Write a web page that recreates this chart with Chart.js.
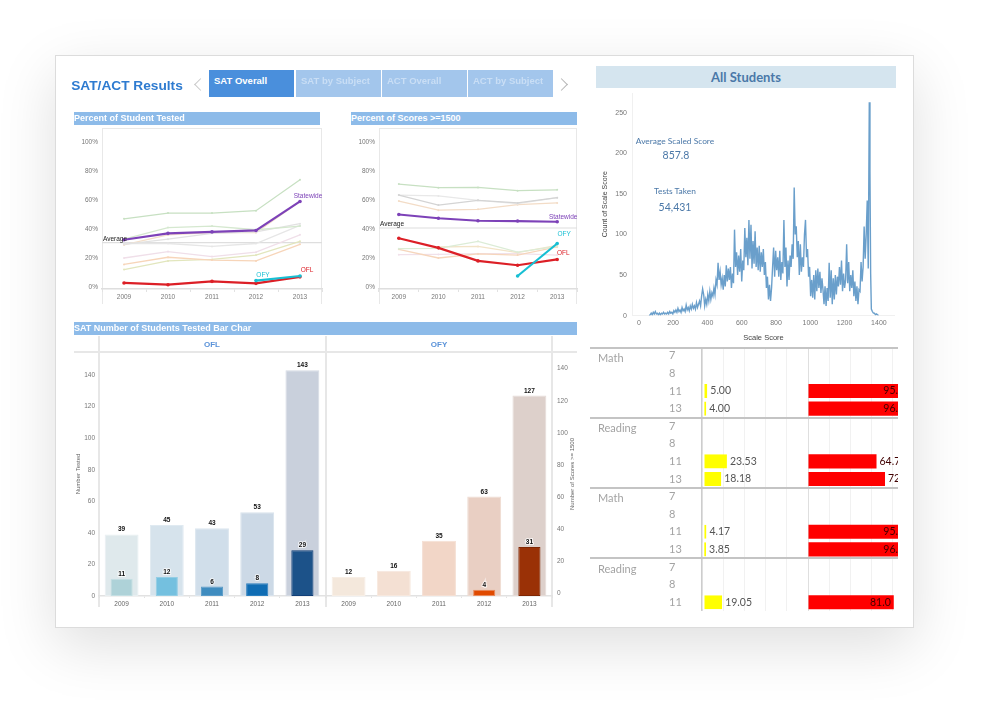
<!DOCTYPE html>
<html>
<head>
<meta charset="utf-8">
<title>SAT/ACT Results</title>
<script src="https://cdn.jsdelivr.net/npm/chart.js@4"></script>
<style>
    html, body { margin: 0; padding: 0; background: #fff; }
    body { width: 1000px; height: 714px; position: relative; overflow: hidden; font-family: "Liberation Sans", sans-serif; }
    #card { position: absolute; left: 55px; top: 55px; width: 857px; height: 571px; background: #fff; border: 1px solid #dcdcdc; box-shadow: 0 18px 55px rgba(0, 0, 0, .13); }
    #page { position: absolute; left: 0; top: 0; width: 1000px; height: 714px; filter: blur(.3px); }
    canvas, .abs { position: absolute; }
    .tab { position: absolute; top: 70px; height: 27px; width: 85px; background: #a3c6ec; color: #c9def5; font: bold 9.5px "Liberation Sans"; box-sizing: border-box; padding: 5px 0 0 5px; }
    .section { position: absolute; height: 13px; background: #8dbbe9; color: #fff; font: bold 9px "Liberation Sans"; line-height: 13px; white-space: nowrap; overflow: hidden; }
    .chev { position: absolute; top: 80px; width: 8px; height: 8px; border-top: 1.5px solid #c9c9c9; border-left: 1.5px solid #c9c9c9; }
    .center { transform: translate(-50%, -50%); white-space: nowrap; }
    .kpi { color: #4b78a8; font-family: Lato; }
    .panel { color: #5b93d9; font: bold 8px "Liberation Sans"; }
    .line { position: absolute; background: #e7e7e7; }
    .sep { position: absolute; left: 590px; width: 308px; height: 1.5px; background: #c4c4c4; }
    .group { position: absolute; left: 598px; color: #a3a3a3; font: 11px Lato; transform: translateY(-50%); }
    .box { position: absolute; border: 1px solid #e8e8e8; border-bottom: none; box-sizing: border-box; }
</style>
</head>
<body>
<div id="page">
    <div id="card"></div>

    <div class="abs center" style="left:127px;top:85px;color:#2e7bd0;font:bold 13.7px 'Liberation Sans'">SAT/ACT Results</div>
    <div class="chev" style="left:196px;transform:rotate(-45deg)"></div>
    <div class="tab" style="left:209px;background:#4a8fdc;color:#fff">SAT Overall</div>
    <div class="tab" style="left:296px">SAT by Subject</div>
    <div class="tab" style="left:382px">ACT Overall</div>
    <div class="tab" style="left:468px">ACT by Subject</div>
    <div class="chev" style="left:557px;transform:rotate(135deg);border-color:#b5b5b5"></div>

    <div class="section" style="left:74px;top:112px;width:246px">Percent of Student Tested</div>
    <div class="section" style="left:351px;top:112px;width:226px">Percent of Scores &gt;=1500</div>
    <div class="section" style="left:74px;top:322px;width:503px">SAT Number of Students Tested Bar Char</div>

    <div class="box" style="left:102px;top:128px;width:220px;height:176px"></div>
    <div class="box" style="left:379px;top:128px;width:198px;height:176px"></div>
    <canvas id="testedChart" width="265" height="176" style="left:60px;top:128px"></canvas>
    <canvas id="scoresChart" width="240" height="176" style="left:340px;top:128px"></canvas>

    <div class="line" style="left:74px;top:351px;width:503px;height:2px"></div>
    <div class="line" style="left:98px;top:336px;width:2px;height:271px"></div>
    <div class="line" style="left:325px;top:336px;width:2px;height:271px"></div>
    <div class="line" style="left:551px;top:336px;width:2px;height:271px"></div>
    <div class="abs center panel" style="left:212px;top:344px">OFL</div>
    <div class="abs center panel" style="left:439px;top:344px">OFY</div>
    <canvas id="oflChart" width="252" height="258" style="left:74px;top:352px"></canvas>
    <canvas id="ofyChart" width="252" height="258" style="left:326px;top:352px"></canvas>
    <div class="abs center" style="left:572px;top:474px;color:#666;font:6px 'Liberation Sans';transform:translate(-50%,-50%) rotate(-90deg)">Number of Scores &gt;= 1500</div>

    <div class="abs center" style="left:746px;top:77px;width:300px;height:22px;background:#d5e5ef;color:#4a78a8;font:bold 13px/22px Lato;text-align:center">All Students</div>
    <canvas id="histChart" width="295" height="250" style="left:600px;top:93px"></canvas>
    <div class="abs center kpi" style="left:675px;top:141px;font-size:8.4px">Average Scaled Score</div>
    <div class="abs center kpi" style="left:676px;top:155px;font-size:10.5px">857.8</div>
    <div class="abs center kpi" style="left:675px;top:191px;font-size:8.4px">Tests Taken</div>
    <div class="abs center kpi" style="left:675px;top:207px;font-size:10.5px">54,431</div>

    <canvas id="yellowChart" width="139" height="264" style="left:669px;top:347px"></canvas>
    <canvas id="redChart" width="90" height="264" style="left:808px;top:347px"></canvas>
    <div class="sep" style="top:347px"></div>
    <div class="sep" style="top:417px"></div>
    <div class="sep" style="top:487px"></div>
    <div class="sep" style="top:557px"></div>
    <div class="group" style="top:357px">Math</div>
    <div class="group" style="top:427px">Reading</div>
    <div class="group" style="top:497px">Math</div>
    <div class="group" style="top:568px">Reading</div>
</div>

<script>
const years = ['2009', '2010', '2011', '2012', '2013'];

// Percent of Student Tested
const testedGreenA = [47, 51, 51, 52.6, 74];
const testedGreenB = [33, 41, 42, 39.5, 42];
const testedGrayA = [29.4, 33, 37, 38, 43.7];
const testedGrayB = [30, 30, 28, 30, 42.5];
const testedTan = [29, 36, 37.5, 37.5, 59];
const testedPink = [20, 24.4, 21, 24, 36];
const testedOrange = [15.6, 20.5, 18.6, 18, 29.4];
const testedOlive = [12, 18, 19, 22, 31.5];
const testedStatewide = [32.6, 37, 38, 39, 59];
const testedOfl = [2.8, 1.6, 3.9, 2.5, 7];
const testedOfy = [null, null, null, 4.4, 7.6];
const testedAverage = 30.6;

// Percent of Scores >=1500
const scoresGreenA = [71, 68.5, 68.7, 66.4, 67];
const scoresGrayA = [63.4, 56.5, 59.8, 58, 61.6];
const scoresGrayB = [63.4, 62.8, 59.8, 57.5, 61.6];
const scoresTanA = [59.3, 53, 53.6, 56.8, 58];
const scoresGreenB = [26.4, 26.7, 31.5, 24, 28];
const scoresOrange = [26, 20, 22.8, 22, 27.6];
const scoresTanB = [null, 27.6, 28, 23.7, 28.7];
const scoresPink = [22.3, 22.5, 23, 23, 22];
const scoresStatewide = [50, 47.4, 45.7, 45.5, 45];
const scoresOfl = [33.6, 27, 18, 15, 19];
const scoresOfy = [null, null, null, 7.6, 30];
const scoresAverage = 40.7;

// Number tested bars
const oflTested = [39, 45, 43, 53, 143];
const oflScores = [11, 12, 6, 8, 29];
const ofyTested = [12, 16, 35, 63, 127];
const ofyScores = [null, null, null, 4, 31];
const axisTicks = [0, 20, 40, 60, 80, 100, 120, 140];

// Count of Scale Score
const scaleScores = [
    60, 66, 72, 78, 84, 90, 96, 102, 108, 114, 120, 126, 132, 138, 144, 150, 156, 162, 168, 174,
    180, 186, 192, 198, 204, 210, 216, 222, 228, 234, 240, 246, 252, 258, 264, 270, 276, 282, 288, 294,
    300, 306, 312, 318, 324, 330, 336, 342, 348, 354, 360, 366, 372, 378, 384, 390, 396, 402, 408, 414,
    420, 426, 432, 438, 444, 450, 456, 462, 468, 474, 480, 486, 492, 498, 504, 510, 516, 522, 528, 534,
    540, 546, 552, 558, 564, 570, 576, 582, 588, 594, 600, 606, 612, 618, 624, 630, 636, 642, 648, 654,
    660, 666, 672, 678, 684, 690, 696, 702, 708, 714, 720, 726, 732, 738, 744, 750, 756, 762, 768, 774,
    780, 786, 792, 798, 804, 810, 816, 822, 828, 834, 840, 846, 852, 858, 864, 870, 876, 882, 888, 894,
    900, 906, 912, 918, 924, 930, 936, 942, 948, 954, 960, 966, 972, 978, 984, 990, 996, 1002, 1008, 1014,
    1020, 1026, 1032, 1038, 1044, 1050, 1056, 1062, 1068, 1074, 1080, 1086, 1092, 1098, 1104, 1110, 1116, 1122, 1128, 1134,
    1140, 1146, 1152, 1158, 1164, 1170, 1176, 1182, 1188, 1194, 1200, 1206, 1212, 1218, 1224, 1230, 1236, 1242, 1248, 1254,
    1260, 1266, 1272, 1278, 1284, 1290, 1296, 1302, 1308, 1314, 1320, 1326, 1332, 1338, 1344, 1348, 1352, 1356, 1362, 1368,
    1374, 1380, 1386, 1392, 1398
];
const scaleCounts = [
    0, 1, 3, 1, 4, 2, 5, 2, 3, 1, 3, 1, 3, 2, 4, 2, 3, 2, 4, 2,
    5, 3, 4, 2, 6, 4, 7, 4, 9, 5, 7, 4, 10, 6, 8, 5, 13, 7, 10, 6,
    12, 8, 14, 9, 12, 8, 16, 10, 14, 18, 12, 24, 33, 26, 12, 20, 14, 26, 18, 30,
    20, 28, 24, 34, 26, 44, 38, 65, 44, 54, 38, 46, 32, 50, 36, 62, 42, 58, 44, 60,
    34, 52, 40, 106, 60, 78, 50, 74, 54, 82, 42, 68, 56, 108, 72, 96, 62, 118, 70, 112,
    58, 92, 64, 104, 60, 84, 56, 86, 54, 78, 60, 82, 50, 66, 34, 48, 20, 38, 18, 34,
    60, 84, 48, 80, 56, 72, 48, 80, 44, 66, 52, 118, 60, 84, 36, 68, 44, 74, 60, 88,
    70, 158, 100, 110, 72, 92, 50, 88, 54, 72, 60, 100, 118, 72, 82, 48, 60, 24, 44, 22,
    50, 20, 56, 30, 58, 34, 54, 28, 46, 32, 14, 36, 12, 34, 18, 65, 22, 56, 14, 46,
    20, 50, 26, 48, 36, 60, 38, 68, 30, 52, 34, 44, 88, 40, 66, 30, 50, 34, 56, 24,
    42, 18, 36, 14, 32, 30, 66, 42, 60, 110, 70, 100, 142, 58, 263, 178, 52, 8, 5, 3,
    3, 1, 2, 1, 0
];
const histXTicks = [0, 200, 400, 600, 800, 1000, 1200, 1400];
const histYTicks = [0, 50, 100, 150, 200, 250];

// Subject table
const tableGrades = ['7', '8', '11', '13', '7', '8', '11', '13', '7', '8', '11', '13', '7', '8', '11'];
const yellowValues = [null, null, 5.00, 4.00, null, null, 23.53, 18.18, null, null, 4.17, 3.85, null, null, 19.05];
const yellowLabels = ['', '', '5.00', '4.00', '', '', '23.53', '18.18', '', '', '4.17', '3.85', '', '', '19.05'];
const redValues = [null, null, 95, 96, null, null, 64.71, 72.73, null, null, 95.83, 96.15, null, null, 81.0];
const redLabels = ['', '', '95.', '96.', '', '', '64.7', '72', '', '', '95.', '96.', '', '', '81.0'];

const tickFont = { family: 'Liberation Sans', size: 6.5 };
const tickColor = '#777';

// pin an axis to a fixed size so the plot area lands where it should
function fixedAxis(size, key) {
    return scale => {
        scale[key] = size;
        scale.paddingTop = 0;
        scale.paddingBottom = 0;
        scale.paddingLeft = 0;
        scale.paddingRight = 0;
    };
}

// text next to a chosen point of a dataset, plus the reference line
const lineNotes = {
    id: 'lineNotes',
    afterDatasetsDraw(chart, args, opts) {
        const { ctx, chartArea, scales } = chart;
        const y = scales.y.getPixelForValue(opts.value);
        ctx.save();
        ctx.fillStyle = '#222';
        ctx.font = '6.5px "Liberation Sans"';
        ctx.textAlign = 'left';
        ctx.fillText('Average', chartArea.left + 1, y - 2);
        chart.data.datasets.forEach((ds, i) => {
            if (!ds.note) return;
            const point = chart.getDatasetMeta(i).data[ds.noteIndex];
            ctx.fillStyle = ds.borderColor;
            ctx.textAlign = 'center';
            ctx.fillText(ds.note, point.x + ds.noteDx, point.y + ds.noteDy);
        });
        ctx.restore();
    },
    beforeDatasetsDraw(chart, args, opts) {
        const { ctx, chartArea, scales } = chart;
        const y = scales.y.getPixelForValue(opts.value);
        ctx.save();
        ctx.strokeStyle = '#dedede';
        ctx.lineWidth = 1.2;
        ctx.beginPath();
        ctx.moveTo(chartArea.left, y);
        ctx.lineTo(chartArea.right, y);
        ctx.stroke();
        ctx.restore();
    }
};

function lineSet(data, color, width, extra) {
    return Object.assign({
        data,
        borderColor: color,
        backgroundColor: color,
        borderWidth: width,
        pointRadius: width > 1.5 ? 1.8 : 1,
        pointBorderWidth: 0,
        spanGaps: false,
        tension: 0
    }, extra);
}

function drawLines(id, datasets, average, yWidth) {
    new Chart(document.getElementById(id), {
        type: 'line',
        data: { labels: years, datasets },
        plugins: [lineNotes],
        options: {
            responsive: false,
            animation: false,
            layout: { autoPadding: false, padding: { right: 3 } },
            plugins: {
                legend: { display: false },
                tooltip: { enabled: false },
                lineNotes: { value: average }
            },
            scales: {
                x: {
                    offset: true,
                    afterFit: fixedAxis(15, 'height'),
                    border: { color: '#dedede', width: 1.5 },
                    grid: { offset: true, drawOnChartArea: false, tickLength: 3, color: '#e2e2e2' },
                    ticks: { font: tickFont, color: tickColor, padding: 1, maxRotation: 0 }
                },
                y: {
                    min: -1.38,
                    max: 109.66,
                    afterFit: fixedAxis(yWidth, 'width'),
                    border: { display: false },
                    grid: { display: false, drawTicks: false },
                    ticks: {
                        stepSize: 20,
                        includeBounds: false,
                        font: tickFont,
                        color: tickColor,
                        padding: 4,
                        callback: v => v + '%'
                    }
                }
            }
        }
    });
}

drawLines('testedChart', [
    lineSet(testedOfy, '#17bfd3', 2.2, { note: 'OFY', noteIndex: 3, noteDx: 7, noteDy: -4 }),
    lineSet(testedOfl, '#dc1f26', 2.2, { note: 'OFL', noteIndex: 4, noteDx: 7, noteDy: -5 }),
    lineSet(testedStatewide, '#7d42b8', 2.2, { note: 'Statewide', noteIndex: 4, noteDx: 8, noteDy: -3 }),
    lineSet(testedGreenA, '#c7e0c2', 1.3),
    lineSet(testedGreenB, '#d5e8cf', 1.3),
    lineSet(testedGrayA, '#e2e2e2', 1.3),
    lineSet(testedGrayB, '#e6e6e6', 1.3),
    lineSet(testedTan, '#f3dfca', 1.3),
    lineSet(testedPink, '#f0dfe9', 1.3),
    lineSet(testedOrange, '#f7d5b9', 1.3),
    lineSet(testedOlive, '#e2e6bd', 1.3)
], testedAverage, 42);

drawLines('scoresChart', [
    lineSet(scoresOfy, '#17bfd3', 2.2, { note: 'OFY', noteIndex: 4, noteDx: 7, noteDy: -8 }),
    lineSet(scoresOfl, '#dc1f26', 2.2, { note: 'OFL', noteIndex: 4, noteDx: 6, noteDy: -4 }),
    lineSet(scoresStatewide, '#7d42b8', 2.2, { note: 'Statewide', noteIndex: 4, noteDx: 6, noteDy: -3 }),
    lineSet(scoresGreenA, '#c7e0c2', 1.3),
    lineSet(scoresGrayA, '#d4d4d4', 1.3),
    lineSet(scoresGrayB, '#e8e8e8', 1.3),
    lineSet(scoresTanA, '#f3dcc6', 1.3),
    lineSet(scoresGreenB, '#dcecd6', 1.3),
    lineSet(scoresOrange, '#f6d6bc', 1.3),
    lineSet(scoresTanB, '#f2e4c8', 1.3),
    lineSet(scoresPink, '#f1e1ea', 1.3)
], scoresAverage, 39);

// bold count over every bar
const barCounts = {
    id: 'barCounts',
    afterDatasetsDraw(chart) {
        const { ctx } = chart;
        ctx.save();
        ctx.font = 'bold 6.5px "Liberation Sans"';
        ctx.textAlign = 'center';
        ctx.lineWidth = 2;
        ctx.strokeStyle = 'rgba(255,255,255,.7)';
        ctx.fillStyle = '#111';
        chart.data.datasets.forEach((ds, i) => {
            chart.getDatasetMeta(i).data.forEach((bar, j) => {
                if (ds.data[j] === null) return;
                ctx.strokeText(ds.data[j], bar.x, bar.y - 3);
                ctx.fillText(ds.data[j], bar.x, bar.y - 3);
            });
        });
        ctx.restore();
    }
};

function barSet(data, colors, edges, percent) {
    return {
        data,
        grouped: false,
        backgroundColor: colors,
        borderColor: edges,
        borderWidth: 1,
        borderSkipped: false,
        categoryPercentage: 1,
        barPercentage: percent
    };
}

const xBarAxis = {
    afterFit: fixedAxis(14, 'height'),
    border: { color: '#e2e2e2', width: 1.5 },
    grid: { drawOnChartArea: false, tickLength: 2, color: '#e2e2e2' },
    ticks: { font: tickFont, color: '#666', padding: 2, maxRotation: 0 }
};

new Chart(document.getElementById('oflChart'), {
    type: 'bar',
    data: {
        labels: years,
        datasets: [
            barSet(oflScores, ['#aed2d8', '#74c0df', '#3f8cbf', '#0f6cb3', '#1c5289'], ['#c4dfe3', '#93cde4', '#5c9cc8', '#2c7fbe', '#123f78'], 0.49),
            barSet(oflTested, ['#dfe9ec', '#d6e3ec', '#d0deea', '#ccd9e6', '#c9d0dc'], ['#e8eff1', '#e0eaf1', '#dbe6ef', '#d8e2ec', '#d4dae3'], 0.75)
        ]
    },
    plugins: [barCounts],
    options: {
        responsive: false,
        animation: false,
        layout: { autoPadding: false, padding: { right: 1 } },
        plugins: { legend: { display: false }, tooltip: { enabled: false } },
        scales: {
            x: xBarAxis,
            y: {
                min: 0,
                max: 154.6,
                afterFit: fixedAxis(25, 'width'),
                afterBuildTicks: scale => { scale.ticks = axisTicks.map(value => ({ value })); },
                border: { display: false },
                grid: { display: false, drawTicks: false },
                title: { display: true, text: 'Number Tested', font: { family: 'Liberation Sans', size: 6 }, color: '#666', padding: 1 },
                ticks: { font: tickFont, color: tickColor, padding: 4 }
            }
        }
    }
});

new Chart(document.getElementById('ofyChart'), {
    type: 'bar',
    data: {
        labels: years,
        datasets: [
            barSet(ofyScores, ['#fff', '#fff', '#fff', '#e04a00', '#9a3106'], ['#fff', '#fff', '#fff', '#e88a5c', '#7f2603'], 0.49),
            barSet(ofyTested, ['#f4e8dc', '#f4e0d3', '#f2d6c7', '#e9cfc3', '#ddd0cb'], ['#f7eee5', '#f7e8de', '#f5dfd3', '#eedbd1', '#e5dbd7'], 0.75)
        ]
    },
    plugins: [barCounts],
    options: {
        responsive: false,
        animation: false,
        layout: { autoPadding: false },
        plugins: { legend: { display: false }, tooltip: { enabled: false } },
        scales: {
            x: xBarAxis,
            y: { display: false, min: 0, max: 154.6 },
            y2: {
                position: 'right',
                min: -1.5,
                max: 150.3,
                afterFit: fixedAxis(26, 'width'),
                afterBuildTicks: scale => { scale.ticks = axisTicks.map(value => ({ value })); },
                border: { display: false },
                grid: { display: false, drawTicks: false },
                ticks: { font: tickFont, color: tickColor, padding: 5 }
            }
        }
    }
});

new Chart(document.getElementById('histChart'), {
    type: 'line',
    data: {
        datasets: [{
            data: scaleScores.map((score, i) => ({ x: score, y: scaleCounts[i] })),
            borderColor: '#6a9fcb',
            borderWidth: 1.4,
            pointRadius: 0,
            tension: 0
        }]
    },
    options: {
        responsive: false,
        animation: false,
        layout: { autoPadding: false },
        plugins: { legend: { display: false }, tooltip: { enabled: false } },
        scales: {
            x: {
                type: 'linear',
                min: -40,
                max: 1494,
                afterFit: fixedAxis(27.4, 'height'),
                afterBuildTicks: scale => { scale.ticks = histXTicks.map(value => ({ value })); },
                border: { color: '#f0f0f0' },
                grid: { display: false, drawTicks: false },
                title: { display: true, text: 'Scale Score', font: { family: 'Liberation Sans', size: 7.5 }, color: '#444', padding: 1 },
                ticks: { font: { family: 'Liberation Sans', size: 7 }, color: tickColor, padding: 3, maxRotation: 0, callback: v => v }
            },
            y: {
                min: 0,
                max: 274.5,
                afterFit: fixedAxis(32, 'width'),
                afterBuildTicks: scale => { scale.ticks = histYTicks.map(value => ({ value })); },
                border: { color: '#f0f0f0' },
                grid: { display: false, drawTicks: false },
                title: { display: true, text: 'Count of Scale Score', font: { family: 'Liberation Sans', size: 7 }, color: '#444', padding: 1 },
                ticks: { font: { family: 'Liberation Sans', size: 7 }, color: tickColor, padding: 5 }
            }
        }
    }
});

// value text at the end of the table bars
const barValues = {
    id: 'barValues',
    afterDatasetsDraw(chart, args, opts) {
        const { ctx, chartArea } = chart;
        ctx.save();
        ctx.font = '10.5px Lato';
        ctx.fillStyle = opts.color;
        ctx.textBaseline = 'middle';
        chart.getDatasetMeta(0).data.forEach((bar, i) => {
            if (!opts.labels[i]) return;
            const value = chart.data.datasets[0].data[i];
            if (value >= 75) {
                ctx.textAlign = 'right';
                ctx.fillText(opts.labels[i], Math.min(bar.x - 3, chartArea.right), bar.y);
            } else {
                ctx.textAlign = 'left';
                ctx.fillText(opts.labels[i], bar.x + 3, bar.y);
            }
        });
        ctx.restore();
    }
};

function drawTable(id, values, labels, color, xMax, yWidth, textColor, leftGap) {
    new Chart(document.getElementById(id), {
        type: 'bar',
        data: {
            labels: tableGrades,
            datasets: [{
                data: values,
                backgroundColor: color,
                borderColor: '#fff',
                borderWidth: { left: leftGap, right: 0, top: 0, bottom: 0 },
                borderSkipped: false,
                categoryPercentage: 1,
                barPercentage: 0.8
            }]
        },
        plugins: [barValues],
        options: {
            indexAxis: 'y',
            responsive: false,
            animation: false,
            layout: { autoPadding: false },
            plugins: {
                legend: { display: false },
                tooltip: { enabled: false },
                barValues: { labels, color: textColor }
            },
            scales: {
                x: {
                    min: 0,
                    max: xMax,
                    position: 'top',
                    afterFit: fixedAxis(0, 'height'),
                    border: { display: false },
                    grid: { color: '#f1f1f1', drawTicks: false },
                    ticks: { display: false, stepSize: 20, includeBounds: false }
                },
                y: {
                    afterFit: fixedAxis(yWidth, 'width'),
                    border: { color: '#cdcdcd', width: 1.5 },
                    grid: { display: false, drawTicks: false },
                    ticks: {
                        display: yWidth > 0,
                        autoSkip: false,
                        crossAlign: 'far',
                        font: { family: 'Lato', size: 11 },
                        color: '#a3a3a3'
                    }
                }
            }
        }
    });
}

drawTable('yellowChart', yellowValues, yellowLabels, '#ffff00', 100, 33, '#555', 2);
drawTable('redChart', redValues, redLabels, '#ff0000', 85, 0, '#400000', 0);
</script>
</body>
</html>
